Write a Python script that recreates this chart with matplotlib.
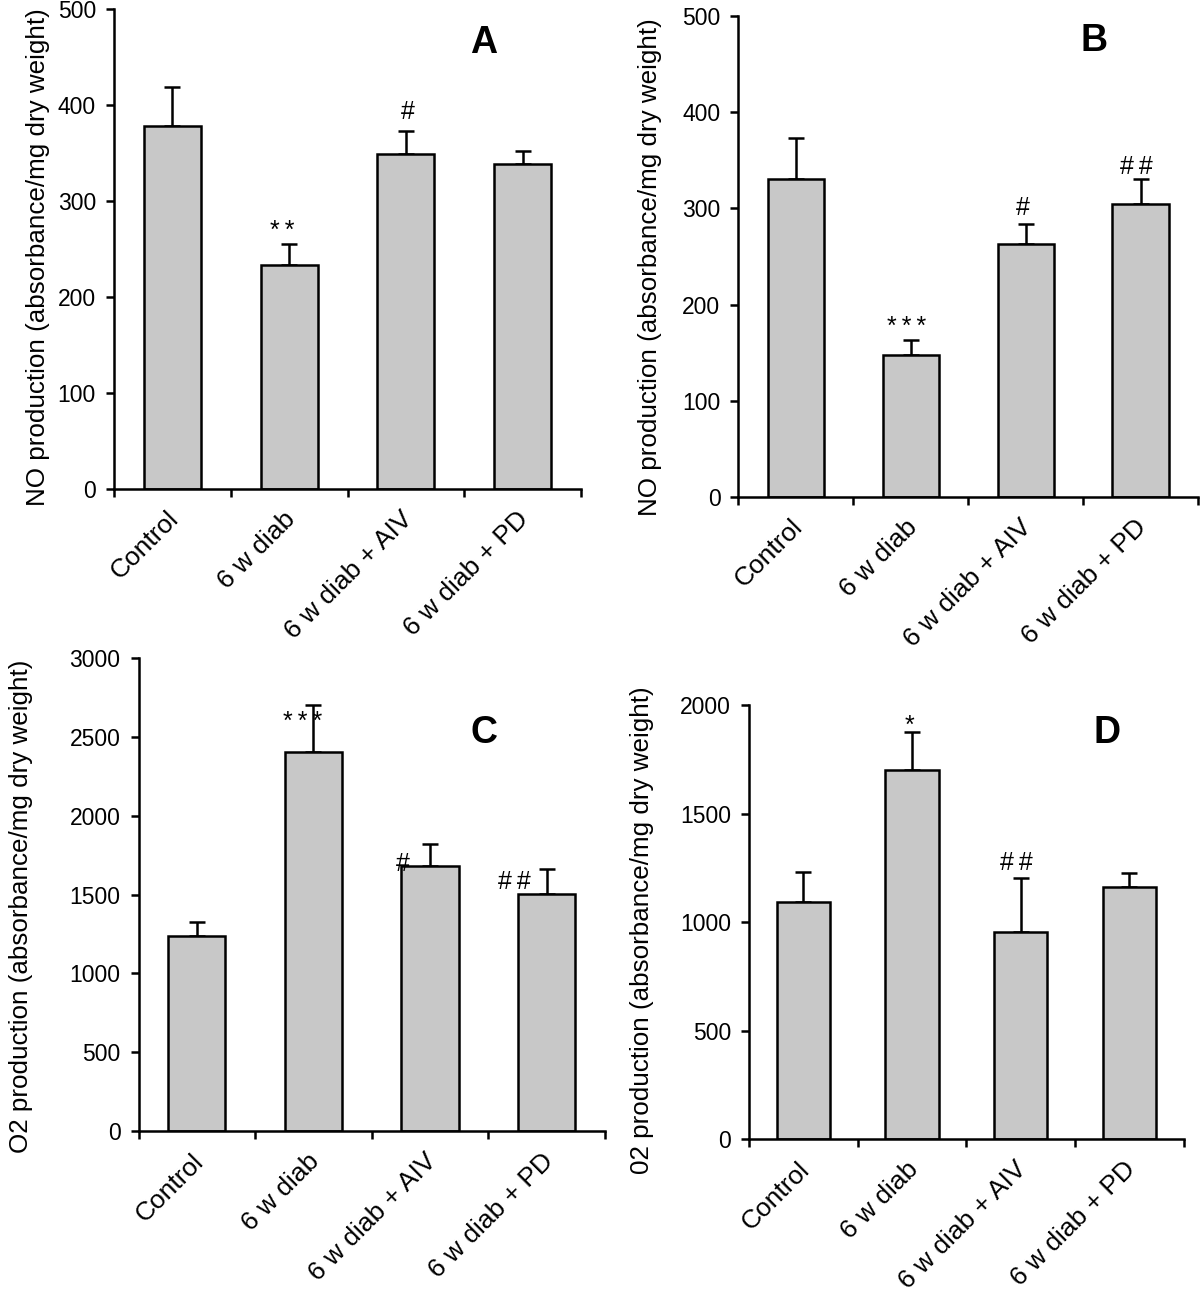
import matplotlib
matplotlib.use('Agg')
import matplotlib.pyplot as plt
import matplotlib.transforms as mtransforms
import numpy as np

plt.rcParams['font.family'] = ['Liberation Sans', 'DejaVu Sans']

groups = ['Control', '6 w diab', '6 w diab + AIV', '6 w diab + PD']

# NO production, panels A and B
no_a = [378, 233, 349, 338]
no_a_err = [41, 22, 24, 14]
no_b = [331, 148, 263, 305]
no_b_err = [42, 15, 21, 26]

# O2 production, panels C and D
o2_c = [1237, 2406, 1683, 1504]
o2_c_err = [90, 296, 138, 158]
o2_d = [1093, 1701, 953, 1162]
o2_d_err = [138, 178, 249, 65]

sig_a = ['', '**', '#', '']
sig_b = ['', '***', '#', '##']
sig_c = ['', '***', '#', '##']
sig_d = ['', '*', '##', '']

# offsets of the significance marks from the top of the error bar (pixels)
off_a = [None, (-7, 13), (2, 19), None]
off_b = [None, (-4, 13), (-3, 16), (-4, 12)]
off_c = [None, (-11, -17), (-27, -20), (-32, -13)]
off_d = [None, (-2, 6), (-4, 15), None]

W, H = 1200, 1292
fig = plt.figure(figsize=(W / 100, H / 100), dpi=100)

panels = [
    # left, right, top, bottom (px), values, errors, ymax, step, letter, letter pos, ylabel, ylabel pos
    ((114, 581, 9, 488.6), no_a, no_a_err, sig_a, off_a, 500, 100, 'A', (0.792, 0.929),
     'NO production (absorbance/mg dry weight)', (38, 257)),
    ((738.5, 1198, 16.3, 496.7), no_b, no_b_err, sig_b, off_b, 500, 100, 'B', (0.774, 0.949),
     'NO production (absorbance/mg dry weight)', (650, 267)),
    ((138.5, 605, 658.3, 1131), o2_c, o2_c_err, sig_c, off_c, 3000, 500, 'C', (0.741, 0.842),
     'O2 production (absorbance/mg dry weight)', (21, 906)),
    ((749, 1183.6, 705.3, 1139), o2_d, o2_d_err, sig_d, off_d, 2000, 500, 'D', (0.824, 0.936),
     '02 production (absorbance/mg dry weight)', (642, 930)),
]

x = np.arange(len(groups)) + 0.5
shift = mtransforms.ScaledTranslation(-6 / 100, 4 / 100, fig.dpi_scale_trans)

for box, vals, errs, sigs, offs, ymax, step, letter, lpos, ylab, ypos in panels:
    l, r, t, b = box
    ax = fig.add_axes([l / W, 1 - b / H, (r - l) / W, (b - t) / H])
    ax.errorbar(x, vals, yerr=[np.zeros(len(vals)), errs], fmt='none', ecolor='black',
                elinewidth=1.8, capsize=6, capthick=1.8, zorder=1)
    ax.bar(x, vals, width=0.49, color='#c8c8c8', edgecolor='black', linewidth=1.8, zorder=2)

    for xi, v, e, s, o in zip(x, vals, errs, sigs, offs):
        if s:
            ax.annotate('\u2009'.join(s), xy=(xi, v + e), xytext=o, textcoords='offset pixels',
                        ha='center', va='center', fontsize=18)

    ax.set_xlim(0, 4)
    ax.set_ylim(0, ymax)
    ax.set_yticks(np.arange(0, ymax + 1, step))
    ax.set_xticks(range(5))
    ax.set_xticklabels([])
    ax.set_xticks(x, groups, minor=True)
    ax.tick_params(axis='both', which='major', direction='out', length=6, width=1.8,
                   labelsize=16.5, pad=7)
    ax.tick_params(axis='x', which='minor', length=0, labelsize=19, pad=16)
    for lab in ax.get_xticklabels(minor=True):
        lab.set_rotation(45)
        lab.set_rotation_mode('anchor')
        lab.set_ha('right')
        lab.set_va('top')
        lab.set_transform(lab.get_transform() + shift)
    for side in ['top', 'right']:
        ax.spines[side].set_visible(False)
    for side in ['left', 'bottom']:
        ax.spines[side].set_linewidth(1.8)

    ax.text(lpos[0], lpos[1], letter, transform=ax.transAxes, ha='center', va='center',
            fontsize=27, fontweight='bold')
    fig.text(ypos[0] / W, 1 - ypos[1] / H, ylab, rotation=90, ha='center', va='center',
             fontsize=18.7)

fig.savefig('out.png', dpi=100)
